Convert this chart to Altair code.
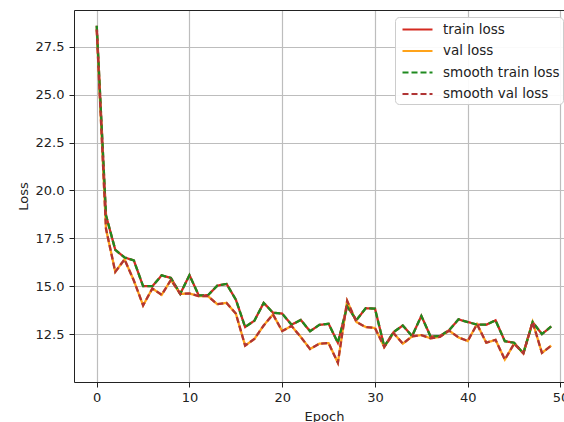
import altair as alt
import pandas as pd

epochs = list(range(50))
train_loss = [28.6, 18.7, 16.9, 16.5, 16.35, 15.0, 15.0, 15.57, 15.43, 14.6,
              15.58, 14.52, 14.53, 15.03, 15.12, 14.3, 12.87, 13.2, 14.13, 13.62,
              13.57, 12.99, 13.24, 12.65, 12.98, 13.04, 12.05, 13.95, 13.23, 13.85,
              13.83, 11.85, 12.6, 12.95, 12.4, 13.45, 12.37, 12.4, 12.71, 13.27,
              13.13, 13.0, 12.99, 13.22, 12.13, 12.05, 11.5, 13.13, 12.5, 12.9]
val_loss = [28.4, 18.0, 15.75, 16.4, 15.3, 14.0, 14.88, 14.55, 15.33, 14.6,
            14.62, 14.48, 14.48, 14.06, 14.13, 13.57, 11.9, 12.25, 12.95, 13.53,
            12.66, 12.93, 12.35, 11.72, 12.0, 12.03, 11.0, 14.23, 13.13, 12.87,
            12.82, 11.83, 12.55, 12.0, 12.38, 12.45, 12.28, 12.36, 12.68, 12.33,
            12.14, 13.02, 12.05, 12.2, 11.17, 12.0, 11.5, 13.13, 11.52, 11.9]
smooth_train_loss = [28.6, 18.7, 16.9, 16.5, 16.35, 15.0, 15.0, 15.57, 15.43, 14.6,
                     15.58, 14.52, 14.53, 15.03, 15.12, 14.3, 12.87, 13.2, 14.13, 13.62,
                     13.57, 12.99, 13.24, 12.65, 12.98, 13.04, 12.05, 13.95, 13.23, 13.85,
                     13.83, 11.85, 12.6, 12.95, 12.4, 13.45, 12.37, 12.4, 12.71, 13.27,
                     13.13, 13.0, 12.99, 13.22, 12.13, 12.05, 11.5, 13.13, 12.5, 12.9]
smooth_val_loss = [28.4, 18.0, 15.75, 16.4, 15.3, 14.0, 14.88, 14.55, 15.33, 14.6,
                   14.62, 14.48, 14.48, 14.06, 14.13, 13.57, 11.9, 12.25, 12.95, 13.53,
                   12.66, 12.93, 12.35, 11.72, 12.0, 12.03, 11.0, 14.23, 13.13, 12.87,
                   12.82, 11.83, 12.55, 12.0, 12.38, 12.45, 12.28, 12.36, 12.68, 12.33,
                   12.14, 13.02, 12.05, 12.2, 11.17, 12.0, 11.5, 13.13, 11.52, 11.9]

series_names = ["train loss", "val loss", "smooth train loss", "smooth val loss"]
series_values = [train_loss, val_loss, smooth_train_loss, smooth_val_loss]
series_colors = ["#d42a20", "#ffa31a", "#1f8a1f", "#b03434"]
series_dashes = [[1, 0], [1, 0], [6, 3], [6, 3]]

x_ticks = [0, 10, 20, 30, 40, 50]
y_ticks = [12.5, 15.0, 17.5, 20.0, 22.5, 25.0, 27.5]

rows = []
for name, vals in zip(series_names, series_values):
    for e, v in zip(epochs, vals):
        rows.append({"epoch": e, "loss": v, "series": name})
df = pd.DataFrame(rows)

FONT = "DejaVu Sans"
xscale = alt.Scale(domain=[-2.45, 50.38], nice=False, zero=False)
yscale = alt.Scale(domain=[10.0, 29.42], nice=False, zero=False)

legend = alt.Legend(
    title=None, orient="none", legendX=321, legendY=7,
    fillColor="rgba(255,255,255,0.92)", strokeColor="#cccccc", cornerRadius=4,
    padding=3, labelFont=FONT, labelFontSize=13.5, labelColor="#222222",
    symbolType="M-1.875,0L1.875,0", symbolSize=256, symbolStrokeWidth=2.2,
    symbolOffset=10, labelOffset=16, rowPadding=5.5, labelLimit=300,
)

base = alt.Chart(df).mark_line(strokeWidth=2.3, clip=True).encode(
    x=alt.X("epoch:Q", scale=xscale, axis=alt.Axis(
        values=x_ticks, title="Epoch", grid=True, gridColor="#bdbdbd", gridWidth=1.2,
        domainColor="#222222", tickColor="#222222", tickSize=5, labelPadding=4,
        labelFont=FONT, labelFontSize=13, labelColor="#222222",
        titleFont=FONT, titleFontSize=13, titleFontWeight="normal", titleColor="#222222",
        titleX=250, titleY=38, titleBaseline="alphabetic", titleAlign="center")),
    y=alt.Y("loss:Q", scale=yscale, axis=alt.Axis(
        values=y_ticks, format=".1f", title="Loss", grid=True, gridColor="#bdbdbd", gridWidth=1.2,
        domainColor="#222222", tickColor="#222222", tickSize=5, labelPadding=5,
        labelFont=FONT, labelFontSize=13, labelColor="#222222",
        titleFont=FONT, titleFontSize=13, titleFontWeight="normal", titleColor="#222222",
        titleX=-47, titleY=186, titleAngle=270, titleBaseline="alphabetic", titleAlign="center")),
    color=alt.Color("series:N", scale=alt.Scale(domain=series_names, range=series_colors), legend=legend),
    strokeDash=alt.StrokeDash("series:N", scale=alt.Scale(domain=series_names, range=series_dashes), legend=legend),
)

line_layers = alt.layer(*[base.transform_filter(alt.datum.series == s) for s in series_names])

top_spine = alt.Chart(df).mark_line(opacity=0).encode(
    x=alt.X("epoch:Q", scale=xscale, axis=alt.Axis(
        orient="top", labels=False, ticks=False, grid=False, domain=True,
        domainColor="#222222", title=None)),
)

chart = alt.layer(line_layers, top_spine).resolve_axis(x="independent").properties(
    width=490, height=372,
    padding={"left": 74, "top": 10, "right": 0, "bottom": 40},
    autosize=alt.AutoSizeParams(type="none"),
).configure_view(stroke=None).configure(background="white")

chart.save("out.html", embed_options={"renderer": "svg", "actions": False})
